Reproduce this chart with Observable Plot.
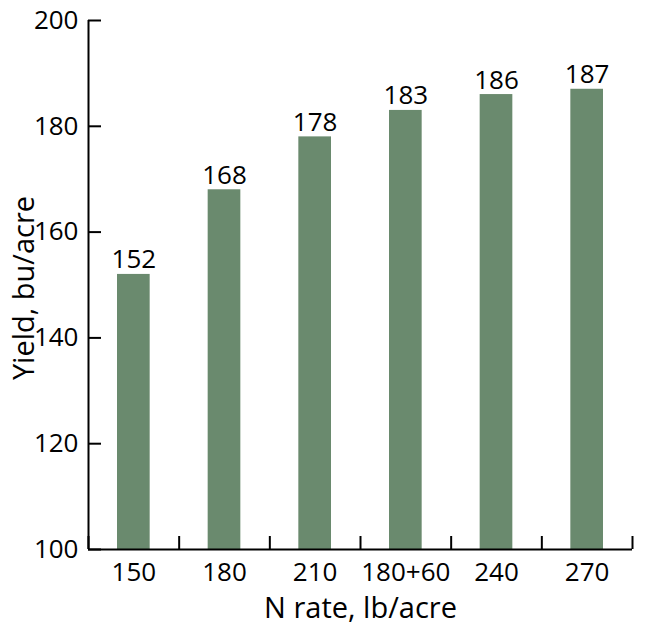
<!DOCTYPE html>
<html>
<head>
<meta charset="utf-8">
<script src="https://cdn.jsdelivr.net/npm/d3@7"></script>
<script src="https://cdn.jsdelivr.net/npm/@observablehq/plot@0.6"></script>
<style>
  html, body { margin: 0; padding: 0; background: #fff; }
  #chart svg { display: block; }
</style>
</head>
<body>
<div id="chart"></div>
<script>
const categories = ["150", "180", "210", "180+60", "240", "270"];
const yields = [152, 168, 178, 183, 186, 187];
const yTicks = [100, 120, 140, 160, 180, 200];
const xLabel = "N rate, lb/acre";
const yLabel = "Yield, bu/acre";

const data = categories.map((c, i) => ({i, c, v: yields[i]}));
const boundaries = d3.range(categories.length + 1);
const centers = categories.map((c, i) => i + 0.5);

const font = "'Open Sans', sans-serif";
const barColor = "#6a8a6e";

const chart = Plot.plot({
  width: 650,
  height: 632,
  marginLeft: 88,
  marginRight: 18,
  marginTop: 20,
  marginBottom: 83,
  style: {fontFamily: font, fontSize: "26px", color: "#000", background: "#fff"},
  x: {type: "linear", domain: [0, categories.length], axis: null},
  y: {domain: [100, 200], axis: null},
  marks: [
    Plot.rectY(data, {
      x1: "i", x2: d => d.i + 1, y1: () => 100, y2: "v",
      fill: barColor, insetLeft: 29, insetRight: 29
    }),
    Plot.text(data, {
      x: d => d.i + 0.5, y: "v", text: d => String(d.v),
      lineAnchor: "bottom", dy: -6, fontSize: 26, fill: "#000"
    }),
    // axis lines
    Plot.ruleX([0], {stroke: "#000", strokeWidth: 2}),
    Plot.ruleY([100], {stroke: "#000", strokeWidth: 2}),
    // y ticks (inward) and labels
    Plot.axisY({ticks: yTicks, tickSize: -13, tickFormat: () => "", strokeWidth: 2, stroke: "#000", label: null}),
    Plot.axisY({ticks: yTicks, tickSize: 0, tickPadding: 10, fontSize: 26, label: null}),
    // x boundary ticks (inward) and category labels
    Plot.axisX({ticks: boundaries, tickSize: -13, tickFormat: () => "", strokeWidth: 2, stroke: "#000", label: null}),
    Plot.axisX({ticks: centers, tickSize: 0, tickPadding: 13, fontSize: 26,
      tickFormat: t => categories[Math.round(t - 0.5)], label: null}),
    // axis titles
    Plot.text([xLabel], {frameAnchor: "bottom", textAnchor: "middle", lineAnchor: "bottom", dy: 68, fontSize: 29, fill: "#000"}),
    Plot.text([yLabel], {frameAnchor: "left", textAnchor: "middle", rotate: -90, lineAnchor: "bottom", dx: -55, dy: 3, fontSize: 29, fill: "#000"})
  ]
});
document.getElementById("chart").appendChild(chart);
</script>
</body>
</html>
